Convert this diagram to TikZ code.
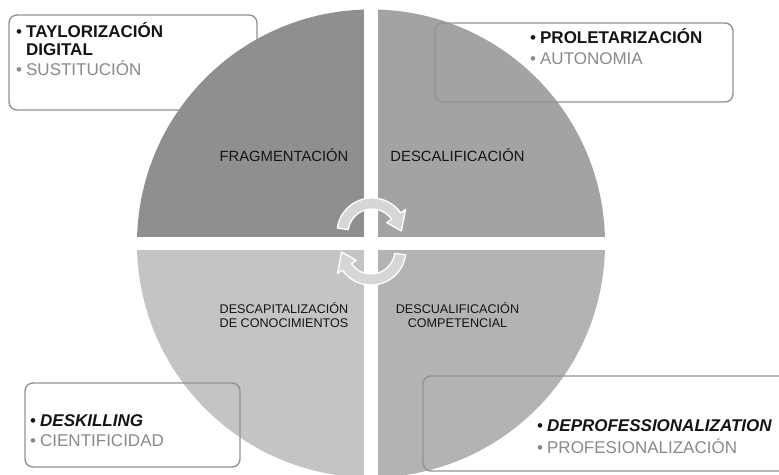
\documentclass[tikz,border=0pt]{standalone}
\usepackage{fontspec}
\setmainfont{Liberation Sans}
\usetikzlibrary{calc}
\definecolor{qtl}{HTML}{8F8F8F}
\definecolor{qtr}{HTML}{A3A3A3}
\definecolor{qbl}{HTML}{C4C4C4}
\definecolor{qbr}{HTML}{B3B3B3}
\definecolor{boxline}{HTML}{939393}
\definecolor{graytxt}{HTML}{8A8A8A}
\definecolor{blacktxt}{HTML}{141414}
\definecolor{arrowfill}{HTML}{D6D6D6}
\tikzset{
  boxframe/.style={draw=boxline, line width=1.4pt, rounded corners=8pt},
  itemtxt/.style={anchor=base west, inner sep=0pt, font=\fontsize{17}{19}\selectfont},
  quadbig/.style={anchor=base, inner sep=0pt, text=blacktxt, font=\fontsize{14.8}{16}\selectfont},
  quadsmall/.style={anchor=base, inner sep=0pt, text=blacktxt, align=center, font=\fontsize{12.6}{14}\selectfont},
  cyclearrow/.style={fill=arrowfill, draw=white, line width=1.3pt, line join=round}
}
\begin{document}
\begin{tikzpicture}[x=1pt,y=1pt]
\useasboundingbox (0,0) rectangle (779,474);
\fill[white] (0,0) rectangle (779,474);
% top-left box (behind circle)
\draw[boxframe, fill=white] (9,364) rectangle (257,459);
% circle quadrants
\coordinate (C) at (371,230.5);
\begin{scope}
  \clip (C) circle (234);
  \fill[qtl] ($(C)+(-240,6.5)$) rectangle ($(C)+(-7,240)$);
  \fill[qtr] ($(C)+(7,6.5)$) rectangle ($(C)+(240,240)$);
  \fill[qbl] ($(C)+(-240,-240)$) rectangle ($(C)+(-7,-6.5)$);
  \fill[qbr] ($(C)+(7,-240)$) rectangle ($(C)+(240,-6.5)$);
\end{scope}
% other boxes (frames over circle)
\draw[boxframe] (435,372) rectangle (733,451);
\draw[boxframe] (25,7) rectangle (240,91);
\draw[boxframe] (423,3) rectangle (800,98);
% cycle arrows
\coordinate (ta) at (372,241);
\coordinate (ba) at (371,224);
\fill[cyclearrow] ([shift={(172:35)}]ta) arc[start angle=172, end angle=35, radius=35]
  -- ([shift={(35:41)}]ta) -- ([shift={(4:29.5)}]ta) -- ([shift={(35:18)}]ta)
  -- ([shift={(35:24)}]ta) arc[start angle=35, end angle=172, radius=24] -- cycle;
\fill[cyclearrow] ([shift={(352:35)}]ba) arc[start angle=352, end angle=215, radius=35]
  -- ([shift={(215:41)}]ba) -- ([shift={(184:29.5)}]ba) -- ([shift={(215:18)}]ba)
  -- ([shift={(215:24)}]ba) arc[start angle=215, end angle=352, radius=24] -- cycle;
% quadrant labels
\node[quadbig] (frag) at (284,312.3) {FRAGMENTACIÓN};
\node[quadbig] (desc) at (457.5,312.3) {DESCALIFICACIÓN};
\node[quadsmall] (decap) at (284,146.3) {DESCAPITALIZACIÓN\\DE CONOCIMIENTOS};
\node[quadsmall] (decual) at (457.5,146.3) {DESCUALIFICACIÓN\\COMPETENCIAL};
% box texts
\node[itemtxt, text=blacktxt] (tl1) at (16,436.3) {•\hspace{4pt}\textbf{TAYLORIZACIÓN}};
\node[itemtxt, text=blacktxt] (tl1b) at (16,418.2) {\phantom{•\hspace{4pt}}\textbf{DIGITAL}};
\node[itemtxt, text=graytxt] (tl2) at (16,398) {•\hspace{4pt}SUSTITUCIÓN};
\node[itemtxt, text=blacktxt] (tr1) at (530,430.7) {•\hspace{4pt}\textbf{PROLETARIZACIÓN}};
\node[itemtxt, text=graytxt] (tr2) at (530,409.7) {•\hspace{4pt}AUTONOMIA};
\node[itemtxt, text=blacktxt] (bl1) at (30,48) {•\hspace{4pt}\textbf{\textit{DESKILLING}}};
\node[itemtxt, text=graytxt] (bl2) at (30,28) {•\hspace{4pt}CIENTIFICIDAD};
\node[itemtxt, text=blacktxt] (br1) at (537,43) {•\hspace{4pt}\textbf{\textit{DEPROFESSIONALIZATION}}};
\node[itemtxt, text=graytxt] (br2) at (537,20.7) {•\hspace{4pt}PROFESIONALIZACIÓN};
\end{tikzpicture}
\end{document}
